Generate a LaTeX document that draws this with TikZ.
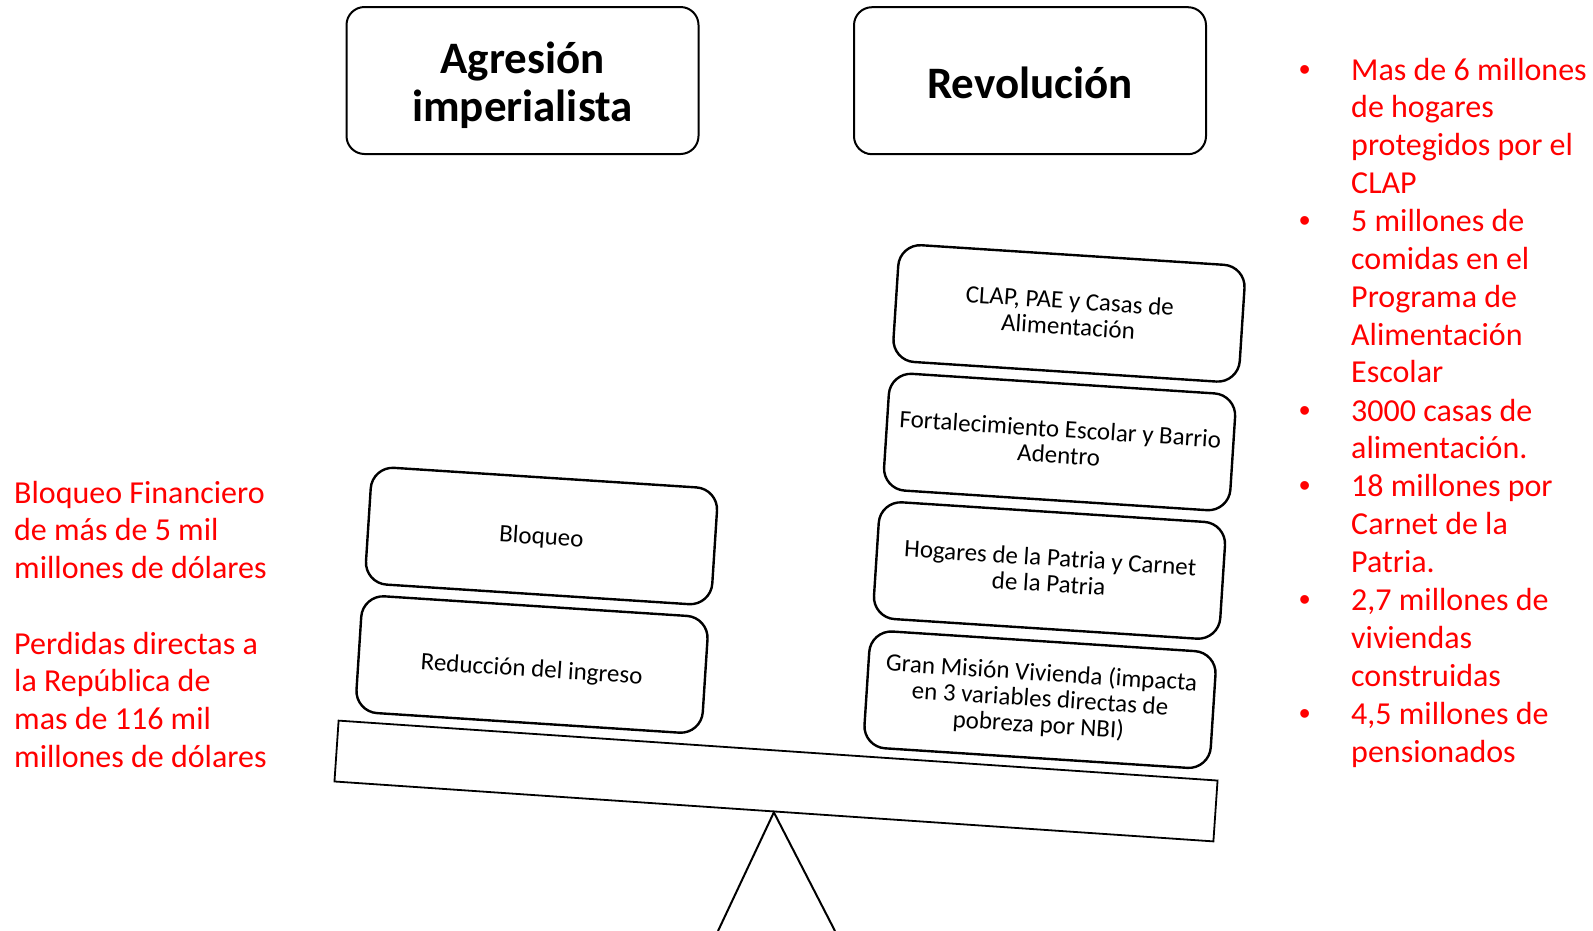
\documentclass[tikz,border=0pt]{standalone}
\usepackage{fontspec}
\setmainfont{Carlito}
\newfontfamily\bulletfont{Liberation Sans}
\begin{document}
\begin{tikzpicture}[x=1pt,y=-1pt,
  titlebox/.style={draw, line width=2pt, rounded corners=18pt, minimum width=352pt, minimum height=147pt, inner sep=0pt},
  titletext/.style={inner sep=0pt, align=center, font=\fontsize{45}{48}\selectfont\bfseries},
  tiltbox/.style={draw, line width=2.4pt, rounded corners=22pt, minimum width=347pt, minimum height=117pt, rotate=-3.7, inner sep=0pt, align=center, font=\fontsize{25}{26}\selectfont},
  redtxt/.style={text=red, inner sep=0pt, anchor=base west, font=\fontsize{32}{37.8}\selectfont},
  bul/.style={text=red, inner sep=0pt, anchor=base west, font=\fontsize{32}{37.8}\selectfont\bulletfont}
]
\useasboundingbox (0,0) rectangle (1593,930);

% title boxes
\node[titlebox] (agresion) at (522.5,80.5) {};
\node[titletext] (agresionT) at ([yshift=-5pt]agresion.center) {Agresión\\imperialista};
\node[titlebox] (revolucion) at (1030,80.7) {};
\node[titletext] (revolucionT) at ([yshift=-2pt]revolucion.center) {Revolución};

% beam and fulcrum
\node[draw, line width=1.8pt, minimum width=881pt, minimum height=61pt, rotate=-3.9, inner sep=0pt] (beam) at (776,781) {};
\coordinate (footL) at (718,931);
\coordinate (footR) at (835,931);
\draw[line width=2pt] (footL) -- (beam.south) -- (footR);

% left stack
\node[tiltbox] (bloqueo) at (541.5,536) {\rule{0pt}{21pt}Bloqueo};
\node[tiltbox] (reduccion) at (532,664.5) {\rule{0pt}{29pt}Reducción del ingreso};

% right stack
\node[tiltbox] (clap) at (1069,313.4) {CLAP, PAE y Casas de\\Alimentación};
\node[tiltbox] (fortal) at (1059.6,442) {Fortalecimiento Escolar y Barrio\\Adentro};
\node[tiltbox] (hogares) at (1049.5,570.5) {Hogares de la Patria y Carnet\\de la Patria};
\node[tiltbox] (gmv) at (1040,699.7) {Gran Misión Vivienda (impacta\\en 3 variables directas de\\pobreza por NBI)};

% left red text
\node[redtxt] (txtA) at (14,503) {\parbox[t]{320pt}{\raggedright Bloqueo Financiero\\de más de 5 mil\\millones de dólares}};
\node[redtxt] (txtB) at (14,654) {\parbox[t]{320pt}{\raggedright Perdidas directas a\\la República de\\mas de 116 mil\\millones de dólares}};

% right bullets
\node[bul] (b1) at (1299,80) {•};
\node[redtxt] (i1) at (1351,80) {\parbox[t]{240pt}{\raggedright Mas de 6 millones\\de hogares\\protegidos por el\\CLAP}};
\node[bul] (b2) at (1299,231.6) {•};
\node[redtxt] (i2) at (1351,231.6) {\parbox[t]{240pt}{\raggedright 5 millones de\\comidas en el\\Programa de\\Alimentación\\Escolar}};
\node[bul] (b3) at (1299,421.1) {•};
\node[redtxt] (i3) at (1351,421.1) {\parbox[t]{240pt}{\raggedright 3000 casas de\\alimentación.}};
\node[bul] (b4) at (1299,496.9) {•};
\node[redtxt] (i4) at (1351,496.9) {\parbox[t]{240pt}{\raggedright 18 millones por\\Carnet de la\\Patria.}};
\node[bul] (b5) at (1299,610.6) {•};
\node[redtxt] (i5) at (1351,610.6) {\parbox[t]{240pt}{\raggedright 2,7 millones de\\viviendas\\construidas}};
\node[bul] (b6) at (1299,724.3) {•};
\node[redtxt] (i6) at (1351,724.3) {\parbox[t]{240pt}{\raggedright 4,5 millones de\\pensionados}};
\end{tikzpicture}
\end{document}
